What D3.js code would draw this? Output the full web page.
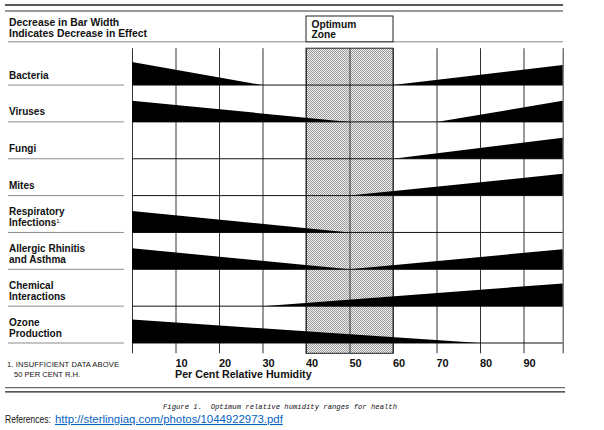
<!DOCTYPE html>
<html>
<head>
<meta charset="utf-8">
<script src="https://cdn.jsdelivr.net/npm/d3@7"></script>
<style>
  html, body { margin: 0; padding: 0; background: #fff; }
  svg { display: block; }
  text { font-family: "Liberation Sans", Arial, sans-serif; fill: #111; }
  .bold { font-weight: bold; }
</style>
</head>
<body>
<svg id="chart" width="604" height="430"></svg>
<script>
// ---- data ----
const categories = ["Bacteria", "Viruses", "Fungi", "Mites", "Respiratory Infections",
  "Allergic Rhinitis and Asthma", "Chemical Interactions", "Ozone Production"];
const labelLines = [["Bacteria"], ["Viruses"], ["Fungi"], ["Mites"], ["Respiratory", "Infections"],
  ["Allergic Rhinitis", "and Asthma"], ["Chemical", "Interactions"], ["Ozone", "Production"]];
// relative effect at 0% RH and RH (%) where the low-humidity effect vanishes
const lowEffect = [0.98, 0.90, null, null, 0.92, 0.90, null, 1.00];
const lowEnd = [30, 50, null, null, 50, 50, null, 80];
// RH (%) where the high-humidity effect begins and relative effect at the top of the range
const highStart = [60, 70, 60, 50, null, 50, 30, null];
const highEffect = [0.86, 0.90, 0.90, 0.93, null, 0.86, 0.97, null];
const tickValues = [10, 20, 30, 40, 50, 60, 70, 80, 90];
const gridValues = [0, 10, 20, 30, 40, 50, 60, 70, 80, 90, 99];
const optimumZone = [40, 60];
const rhMax = 99;

// ---- scales ----
const svg = d3.select("#chart");
const x = d3.scaleLinear().domain([0, 100]).range([132, 567]);
const row = d3.scaleBand().domain(categories).range([48.2, 343]).padding(0);
const effect = d3.scaleLinear().domain([0, 1]).range([0, 23.4]);
const plotTop = 48.2, plotBottom = 353.3;
const base = c => row(c) + row.bandwidth();

// ---- rules at top ----
svg.append("line").attr("x1", 5).attr("x2", 563).attr("y1", 5).attr("y2", 5)
  .attr("stroke", "#222").attr("stroke-width", 1.3);
svg.append("line").attr("x1", 5).attr("x2", 563).attr("y1", 11).attr("y2", 11)
  .attr("stroke", "#333").attr("stroke-width", 1);
svg.append("line").attr("x1", 8).attr("x2", 563).attr("y1", 41.8).attr("y2", 41.8)
  .attr("stroke", "#888").attr("stroke-width", 1);

svg.append("text").attr("class", "bold").attr("x", 9).attr("y", 26.3)
  .style("font-size", "10.4px").text("Decrease in Bar Width");
svg.append("text").attr("class", "bold").attr("x", 9).attr("y", 37.3)
  .style("font-size", "10.4px").text("Indicates Decrease in Effect");

// Optimum zone header box
svg.append("rect").attr("x", x(optimumZone[0])).attr("y", 16)
  .attr("width", x(optimumZone[1]) - x(optimumZone[0])).attr("height", 25.8)
  .attr("fill", "#fff").attr("stroke", "#222").attr("stroke-width", 1);
svg.append("text").attr("class", "bold").attr("x", x(optimumZone[0]) + 5.5).attr("y", 27.6)
  .style("font-size", "10.2px").text("Optimum");
svg.append("text").attr("class", "bold").attr("x", x(optimumZone[0]) + 5.5).attr("y", 37.8)
  .style("font-size", "10.2px").text("Zone");

// ---- stipple pattern for the optimum zone ----
const defs = svg.append("defs");
const pat = defs.append("pattern").attr("id", "stipple").attr("patternUnits", "userSpaceOnUse")
  .attr("width", 2).attr("height", 2);
pat.append("rect").attr("width", 2).attr("height", 2).attr("fill", "#eeeeee");
pat.append("rect").attr("x", 0).attr("y", 0).attr("width", 1).attr("height", 1).attr("fill", "#9c9c9c");
pat.append("rect").attr("x", 1).attr("y", 1).attr("width", 1).attr("height", 1).attr("fill", "#9c9c9c");

svg.append("rect").attr("x", x(optimumZone[0])).attr("y", plotTop)
  .attr("width", x(optimumZone[1]) - x(optimumZone[0])).attr("height", plotBottom - plotTop)
  .attr("fill", "url(#stipple)").attr("stroke", "#222").attr("stroke-width", 1);

// ---- vertical grid lines ----
const grid = svg.append("g").attr("transform", `translate(0,${plotBottom})`)
  .call(d3.axisBottom(x).tickValues(gridValues).tickSize(-(plotBottom - plotTop)).tickFormat(""));
grid.select(".domain").remove();
grid.selectAll(".tick line").attr("stroke", "#333").attr("stroke-width", 1);

// ---- row baselines & label underlines ----
svg.append("g").selectAll("line.base").data(categories).join("line")
  .attr("x1", x(0)).attr("x2", x(rhMax))
  .attr("y1", d => base(d)).attr("y2", d => base(d))
  .attr("stroke", "#111").attr("stroke-width", 1);
svg.append("g").selectAll("line.under").data(categories).join("line")
  .attr("x1", 8).attr("x2", 124)
  .attr("y1", d => base(d)).attr("y2", d => base(d))
  .attr("stroke", "#8c8c8c").attr("stroke-width", 1);

// ---- wedges ----
const line = d3.line().x(d => x(d[0])).y(d => d[1]);
categories.forEach((c, i) => {
  const b = base(c);
  if (lowEffect[i] != null) {
    svg.append("path")
      .attr("d", line([[0, b], [0, b - effect(lowEffect[i])], [lowEnd[i], b]]) + "Z")
      .attr("fill", "#000");
  }
  if (highEffect[i] != null) {
    svg.append("path")
      .attr("d", line([[highStart[i], b], [rhMax, b - effect(highEffect[i])], [rhMax, b]]) + "Z")
      .attr("fill", "#000");
  }
});

// ---- row labels ----
categories.forEach((c, i) => {
  const b = base(c);
  const lines = labelLines[i];
  lines.forEach((t, j) => {
    const yy = lines.length === 1 ? b - 6.5 : (j === 0 ? b - 17.5 : b - 6.5);
    const tx = svg.append("text").attr("class", "bold").attr("x", 9).attr("y", yy)
      .style("font-size", "10px").text(t);
    if (c === "Respiratory Infections" && j === 1) {
      tx.append("tspan").attr("dy", -3).style("font-size", "6px").style("font-weight", "normal").text("1.");
    }
  });
});

// ---- x axis labels ----
const ax = svg.append("g").attr("transform", "translate(0,367.3)")
  .call(d3.axisBottom(x).tickValues(tickValues).tickSize(0).tickPadding(0));
ax.select(".domain").remove();
ax.selectAll(".tick text").attr("y", 0).attr("dy", 0).attr("dx", 5.5)
  .attr("text-anchor", "middle")
  .style("font-family", "'Liberation Sans', Arial, sans-serif")
  .style("font-weight", "bold").style("font-size", "11px").attr("fill", "#111");

svg.append("text").attr("class", "bold").attr("x", 175).attr("y", 378.3)
  .style("font-size", "10.7px").text("Per Cent Relative Humidity");

// footnote
svg.append("text").attr("x", 7).attr("y", 367).style("font-size", "7.6px")
  .attr("textLength", 112).text("1. INSUFFICIENT DATA ABOVE");
svg.append("text").attr("x", 14).attr("y", 377).style("font-size", "7.6px")
  .text("50 PER CENT R.H.");

// ---- bottom rules ----
svg.append("line").attr("x1", 5).attr("x2", 565).attr("y1", 387.7).attr("y2", 387.7)
  .attr("stroke", "#333").attr("stroke-width", 0.9);
svg.append("line").attr("x1", 5).attr("x2", 565).attr("y1", 391.8).attr("y2", 391.8)
  .attr("stroke", "#222").attr("stroke-width", 1.3);

// caption
svg.append("text").attr("x", 163).attr("y", 408.5)
  .style("font-family", "'Liberation Mono', 'DejaVu Sans Mono', monospace")
  .style("font-style", "italic").style("font-size", "7.2px")
  .attr("textLength", 234).attr("xml:space", "preserve")
  .text("Figure 1.  Optimum relative humidity ranges for health");

// references (horizontally condensed to mimic a narrow font)
function condensed(str, x0, y0, targetW, color, underline) {
  const g = svg.append("g");
  const t = g.append("text").attr("x", 0).attr("y", 0).style("font-size", "11px")
    .style("fill", color).text(str);
  if (underline) t.style("text-decoration", "underline");
  const w = t.node().getComputedTextLength();
  g.attr("transform", `translate(${x0},${y0}) scale(${targetW / w},1)`);
}
condensed("References:", 5, 423, 46, "#111", false);
condensed("http://sterlingiaq.com/photos/1044922973.pdf", 55, 423, 228, "#0563C1", true);
</script>
</body>
</html>
